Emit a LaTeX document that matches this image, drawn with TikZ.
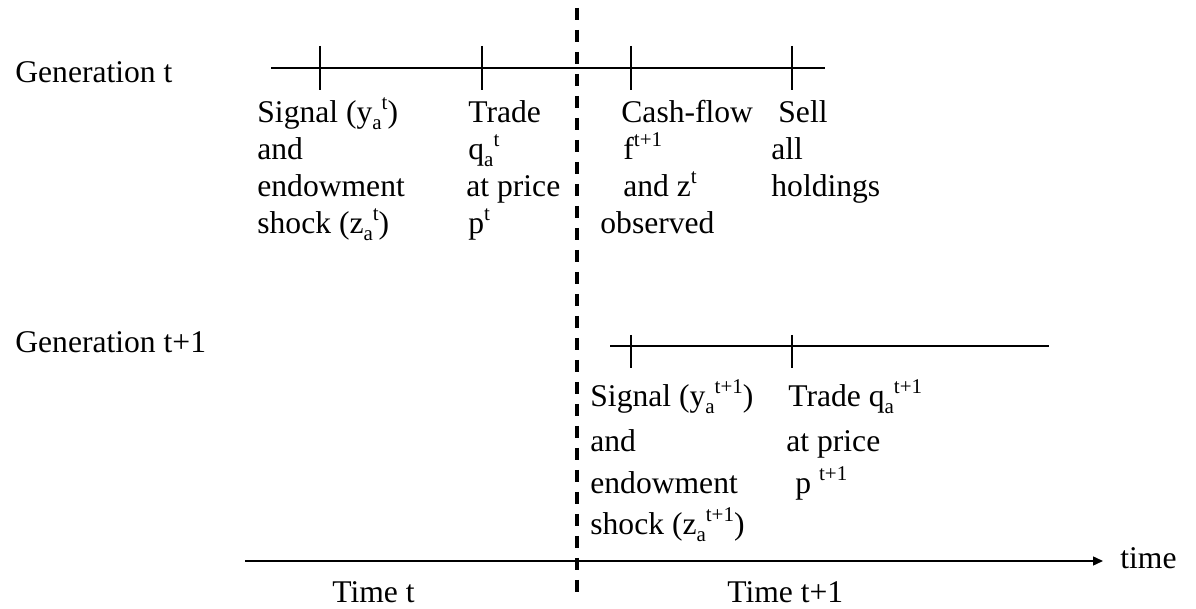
\documentclass[tikz,border=0pt]{standalone}
\usepackage{fontspec}
\setmainfont{Liberation Serif}
\usetikzlibrary{arrows.meta}
\newcommand\myup[1]{\raisebox{0.42em}{\fontsize{10.5}{10.5}\selectfont #1}}
\newcommand\mydn[1]{\raisebox{-0.22em}{\fontsize{10.5}{10.5}\selectfont #1}}
\begin{document}
\begin{tikzpicture}[x=0.5pt,y=-0.5pt,
  lbl/.style={anchor=base west,inner sep=0pt,font=\fontsize{15.8}{18}\selectfont},
  tl/.style={line width=0.6pt},
  divider/.style={line width=1.6pt,dash pattern=on 6pt off 5pt},
  axis/.style={line width=0.7pt,-{Triangle[length=5pt,width=4.5pt]}}]
\useasboundingbox (0,0) rectangle (1196,609);
% timeline generation t
\coordinate (g1s) at (271,68); \coordinate (g1e) at (825,68);
\draw[tl] (g1s) -- (g1e);
\foreach \x [count=\i] in {320,482,631,792}{
  \coordinate (k\i a) at (\x,46); \coordinate (k\i b) at (\x,90);
  \draw[tl] (k\i a) -- (k\i b);}
% timeline generation t+1
\coordinate (g2s) at (610,346); \coordinate (g2e) at (1049,346);
\draw[tl] (g2s) -- (g2e);
\foreach \x [count=\i] in {631,792}{
  \coordinate (m\i a) at (\x,335); \coordinate (m\i b) at (\x,368);
  \draw[tl] (m\i a) -- (m\i b);}
% divider
\coordinate (dtop) at (577,8); \coordinate (dbot) at (577,600);
\draw[divider] (dtop) -- (dbot);
% axis
\coordinate (as) at (245,561); \coordinate (ae) at (1103,561);
\draw[axis] (as) -- (ae);
% labels
\node[lbl] (gent) at (15,83) {Generation t};
\node[lbl] (gent1) at (15,353) {Generation t+1};
\node[lbl] (a1) at (257,123) {Signal (y\mydn{a}\myup{t})};
\node[lbl] (a2) at (257,160) {and};
\node[lbl] (a3) at (257,197) {endowment};
\node[lbl] (a4) at (257,234) {shock (z\mydn{a}\myup{t})};
\node[lbl] (b1) at (468,123) {Trade};
\node[lbl] (b2) at (468,160) {q\mydn{a}\myup{t}};
\node[lbl] (b3) at (466,197) {at price};
\node[lbl] (b4) at (468,234) {p\myup{t}};
\node[lbl] (c1) at (621,123) {Cash-flow};
\node[lbl] (c2) at (623,160) {f\myup{t+1}};
\node[lbl] (c3) at (623,197) {and z\myup{t}};
\node[lbl] (c4) at (600,234) {observed};
\node[lbl] (d1) at (778,123) {Sell};
\node[lbl] (d2) at (771,160) {all};
\node[lbl] (d3) at (771,197) {holdings};
\node[lbl] (e1) at (590,407) {Signal (y\mydn{a}\myup{t+1})};
\node[lbl] (e2) at (590,452) {and};
\node[lbl] (e3) at (590,494) {endowment};
\node[lbl] (e4) at (590,535) {shock (z\mydn{a}\myup{t+1})};
\node[lbl] (f1) at (788,407) {Trade q\mydn{a}\myup{t+1}};
\node[lbl] (f2) at (786,452) {at price};
\node[lbl] (f3) at (795,494) {p \myup{t+1}};
\node[lbl] (time) at (1120,568) {time};
\node[lbl] (tt) at (332,603) {Time t};
\node[lbl] (tt1) at (727,603) {Time t+1};
\end{tikzpicture}
\end{document}
